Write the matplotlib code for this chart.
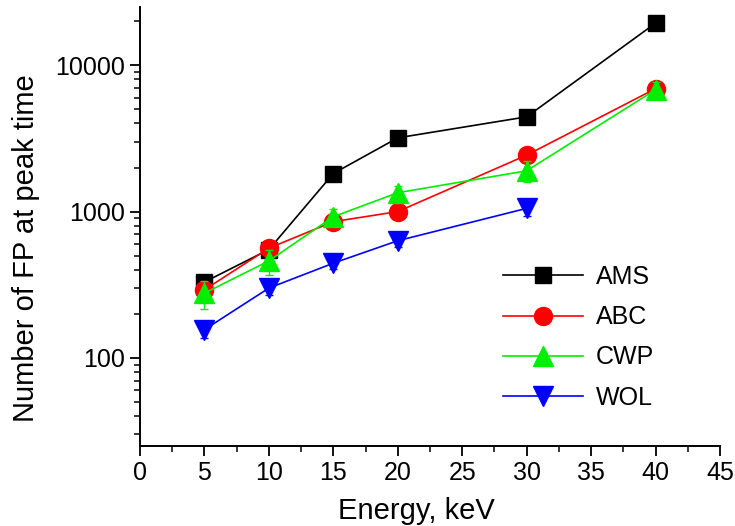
import numpy as np
import matplotlib
matplotlib.use('Agg')
from matplotlib import pyplot as plt
from matplotlib.ticker import FixedLocator, LogLocator, NullFormatter, FixedFormatter

plt.rcParams['font.family'] = ['Liberation Sans', 'DejaVu Sans']

# ---- data
energy = [5, 10, 15, 20, 30, 40]
energy_wol = [5, 10, 15, 20, 30]

ams = [330, 550, 1820, 3190, 4440, 19400]
abc = [292, 562, 853, 1000, 2430, 6920]
cwp = [277, 460, 922, 1345, 1900, 6800]
wol = [156, 300, 444, 632, 1052]

ams_err = [20, 40, 100, 150, 250, 800]
abc_err = [30, 50, 80, 80, 200, 700]
cwp_err = [60, 90, 120, 150, 300, 900]
wol_err = [20, 30, 40, 60, 120]

xticks = [0, 5, 10, 15, 20, 25, 30, 35, 40, 45]
yticks = [100, 1000, 10000]
ytick_labels = ['100', '1000', '10000']

# ---- figure
fig = plt.figure(figsize=(7.35, 5.26), dpi=100)
ax = fig.add_axes([140/735, 1-446/526, 580/735, 439/526])

series = [
    (energy, ams, ams_err, 'black', 's', 11.5, 'AMS'),
    (energy, abc, abc_err, 'red', 'o', 13, 'ABC'),
    (energy, cwp, cwp_err, '#00ee00', '^', 14, 'CWP'),
    (energy_wol, wol, wol_err, 'blue', 'v', 14, 'WOL'),
]
for x, y, e, c, m, ms, lab in series:
    ax.errorbar(x, y, yerr=e, fmt='none', ecolor=c, elinewidth=1.0, capsize=3)
    ax.plot(x, y, color=c, marker=m, markersize=ms, linewidth=1.2,
            markeredgecolor=c, label=lab)

ax.set_yscale('log')
ax.set_xlim(0, 45)
ax.set_ylim(25, 25000)

ax.xaxis.set_major_locator(FixedLocator(xticks))
ax.xaxis.set_minor_locator(FixedLocator(np.arange(2.5, 45, 5)))
ax.yaxis.set_major_locator(FixedLocator(yticks))
ax.yaxis.set_major_formatter(FixedFormatter(ytick_labels))
ax.yaxis.set_minor_locator(LogLocator(base=10, subs=np.arange(2, 10)))
ax.yaxis.set_minor_formatter(NullFormatter())

for s in ['top', 'right']:
    ax.spines[s].set_visible(False)
for s in ['left', 'bottom']:
    ax.spines[s].set_linewidth(1.4)

ax.tick_params(which='major', direction='out', length=7, width=1.3, labelsize=18, pad=4)
ax.tick_params(which='minor', direction='out', length=4, width=1.1)

ax.set_xlabel('Energy, keV', fontsize=21)
ax.set_ylabel('Number of FP at peak time', fontsize=21)
ax.xaxis.set_label_coords(0.476, -0.116)
ax.yaxis.set_label_coords(-0.173, 0.451)

leg = ax.legend(loc='upper left', bbox_to_anchor=(503/735, 1-265/526),
                bbox_transform=fig.transFigure, frameon=False, fontsize=18,
                handlelength=3.2, handletextpad=0.5, labelspacing=0.65,
                borderpad=0, borderaxespad=0)

fig.savefig('out.png', dpi=100)
